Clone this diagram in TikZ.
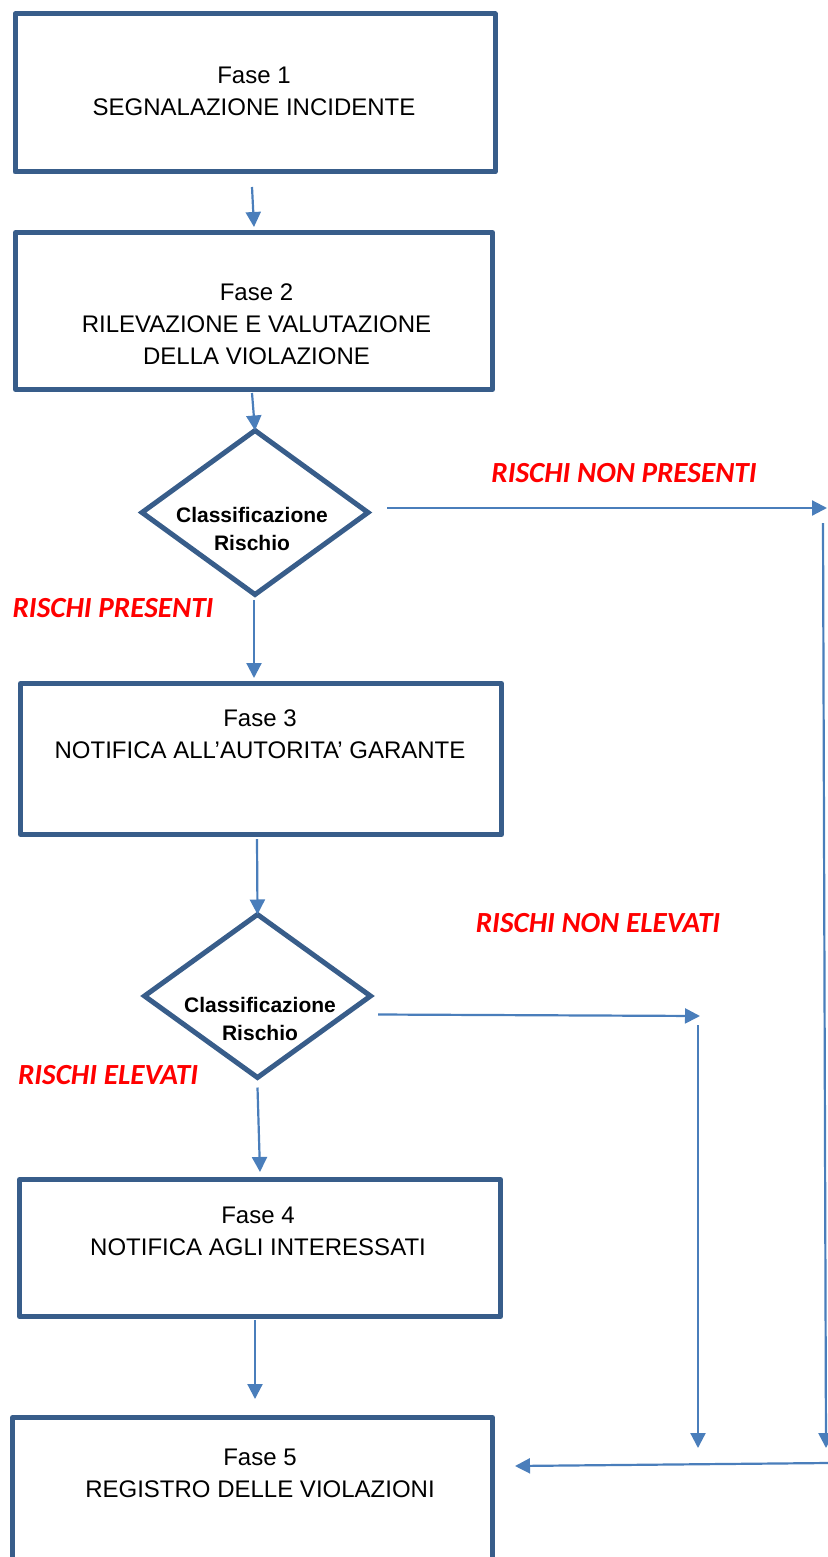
\documentclass[tikz,border=0pt]{standalone}
\usepackage{fontspec}
\setmainfont{Liberation Sans}
\newfontfamily\calibri{Carlito}
\usetikzlibrary{shapes.geometric, arrows.meta, calc}

\definecolor{bordo}{HTML}{385D8A}
\definecolor{blufreccia}{HTML}{4A7EBB}

\begin{document}
\begin{tikzpicture}[x = 0.5pt, y = -0.5pt,
    fase/.style = {rectangle, draw = bordo, line width = 2.5pt, line join = round,
        outer sep = 0pt, inner sep = 0pt, minimum width = 240pt},
    scelta/.style = {diamond, draw = bordo, line width = 2.5pt,
        outer sep = 0pt, inner sep = 0pt, minimum width = 113pt},
    testo/.style = {align = center, inner sep = 0pt, font = \fontsize{12}{16}\selectfont},
    nota/.style = {align = center, inner sep = 0pt, font = \fontsize{10.5}{14}\selectfont\bfseries},
    rischio/.style = {inner sep = 0pt, text = red, font = \calibri\fontsize{14.6}{16}\selectfont\bfseries\itshape},
    arco/.style = {draw = blufreccia, line width = 1.1pt, -{Triangle[length = 7.5pt, width = 7.5pt]}}]

    \useasboundingbox (0,0) rectangle (828,1557);
    \clip (0,0) rectangle (828,1557);

    % fasi
    \node[fase, minimum height = 79pt] (f1) at (255,93) {};
    \node[fase, minimum width = 238.5pt, minimum height = 78.5pt] (f2) at (254,311) {};
    \node[fase, minimum width = 240.5pt, minimum height = 75.5pt] (f3) at (261,759) {};
    \node[fase, minimum width = 240.5pt, minimum height = 68.5pt] (f4) at (260,1248) {};
    \node[fase, minimum height = 76.5pt] (f5) at (252.5,1494) {};

    \node[testo] (t1) at (254,91) {Fase 1\\SEGNALAZIONE INCIDENTE};
    \node[testo] (t2) at (256.5,324.5) {Fase 2\\RILEVAZIONE E VALUTAZIONE\\DELLA VIOLAZIONE};
    \node[testo] (t3) at (260,734.5) {Fase 3\\NOTIFICA ALL’AUTORITA’ GARANTE};
    \node[testo] (t4) at (258,1231) {Fase 4\\NOTIFICA AGLI INTERESSATI};
    \node[testo] (t5) at (260,1473) {Fase 5\\REGISTRO DELLE VIOLAZIONI};

    % decisioni
    \node[scelta, minimum height = 82pt] (d1) at (255,512.5) {};
    \node[scelta, minimum height = 81.5pt] (d2) at (257.5,996) {};
    \node[nota] (n1) at (252,529) {Classificazione\\Rischio};
    \node[nota] (n2) at (260,1019) {Classificazione\\Rischio};

    % esiti
    \node[rischio] (r1) at (624,473) {RISCHI NON PRESENTI};
    \node[rischio] (r2) at (113,608) {RISCHI PRESENTI};
    \node[rischio] (r3) at (598,923) {RISCHI NON ELEVATI};
    \node[rischio] (r4) at (108,1075) {RISCHI ELEVATI};

    \coordinate (c1) at (827,508);
    \coordinate (c2) at (823,523);
    \coordinate (c3) at (826,1448);
    \coordinate (c4) at (700,1016);
    \coordinate (c5) at (698,1025);
    \coordinate (c6) at (698,1448);
    \coordinate (c7) at (828,1463);

    % frecce
    \draw[arco] ([xshift = -1.5pt, yshift = -7.5pt]f1.south) -- ([yshift = 2.75pt]f2.north);
    \draw[arco] ([xshift = -1pt, yshift = -1.75pt]f2.south) -- (d1.north);
    \draw[arco] ([xshift = -0.5pt, yshift = -2.75pt]d1.south) -- ([xshift = -3.5pt, yshift = 2.75pt]f3.north);
    \draw[arco] ([xshift = -2pt, yshift = -2.25pt]f3.south) -- (d2.north);
    \draw[arco] ([yshift = -5pt]d2.south) -- ([yshift = 3.75pt]f4.north);
    \draw[arco] ([xshift = -2.5pt, yshift = -1.75pt]f4.south) -- ([xshift = 1.25pt, yshift = 9.25pt]f5.north);

    \draw[arco] ([xshift = 9.5pt, yshift = 2.25pt]d1.east) -- (c1);
    \draw[arco] (c2) -- (c3);
    \draw[arco] ([xshift = 3.75pt, yshift = -9.25pt]d2.east) -- (c4);
    \draw[arco] (c5) -- (c6);
    \draw[arco] (c7) -- ([xshift = 11.25pt, yshift = 14pt]f5.east);
\end{tikzpicture}
\end{document}
